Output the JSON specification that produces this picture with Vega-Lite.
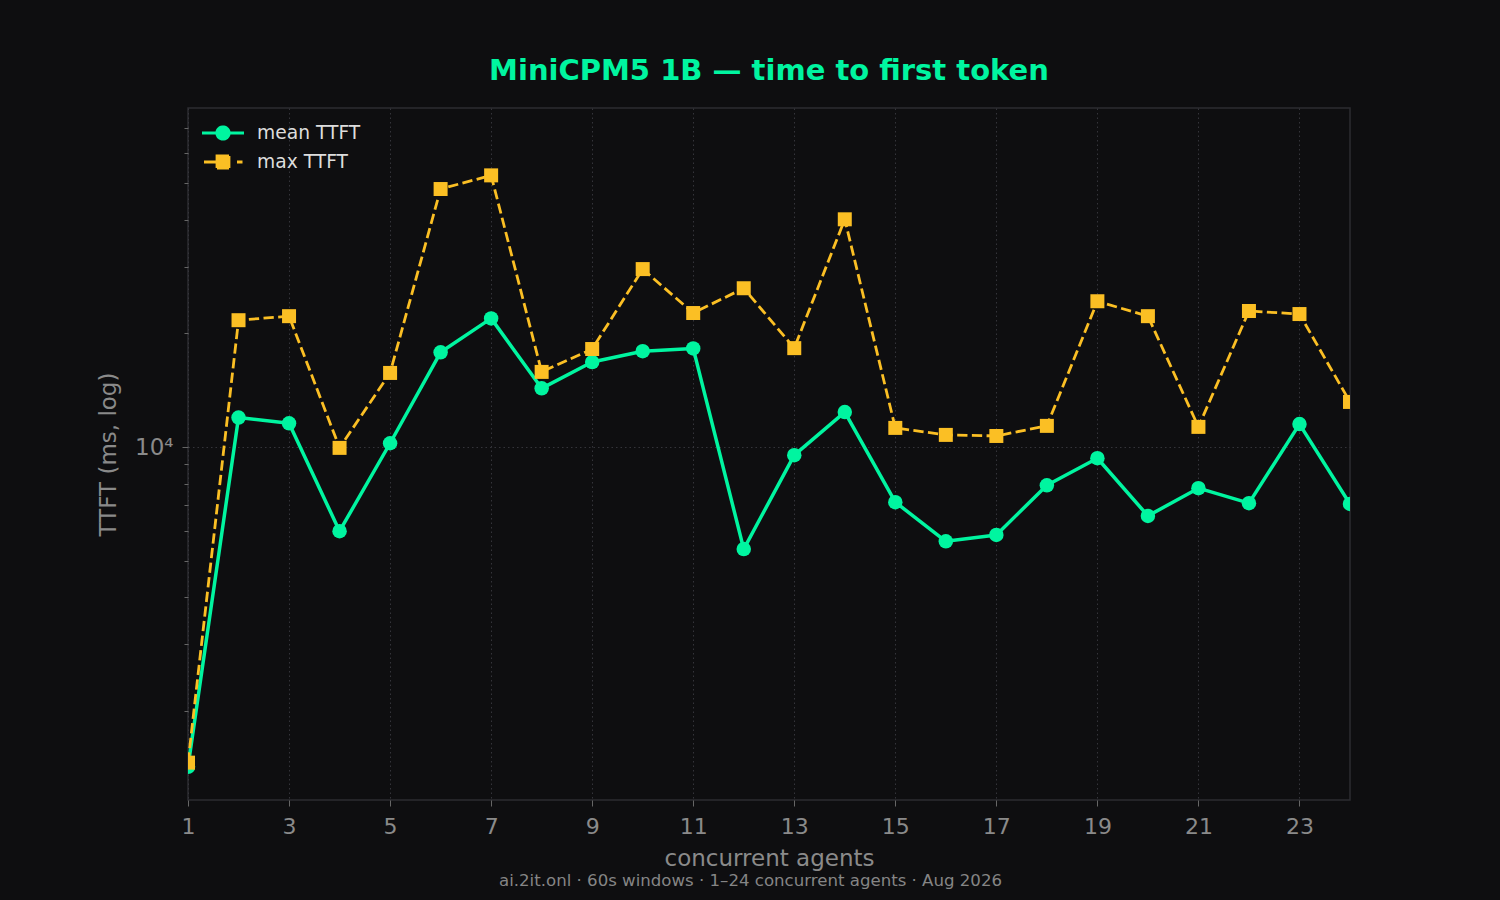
{
  "$schema": "https://vega.github.io/schema/vega-lite/v6.json",
  "width": 1162,
  "height": 692,
  "autosize": {"type": "none"},
  "padding": {"left": 188, "top": 108, "right": 150, "bottom": 100},
  "background": "#0e0e10",
  "config": {
    "font": "DejaVu Sans",
    "view": {"stroke": "#2c2c31", "strokeWidth": 1.5, "fill": "#0e0e10"}
  },
  "title": {
    "text": "MiniCPM5 1B — time to first token",
    "fontSize": 29,
    "fontWeight": "bold",
    "color": "#00f5a0",
    "font": "DejaVu Sans",
    "anchor": "middle",
    "frame": "group",
    "offset": 22
  },
  "data": {
    "values": [
      {"agents": 1, "series": "mean TTFT", "ttft": 1420},
      {"agents": 2, "series": "mean TTFT", "ttft": 11970},
      {"agents": 3, "series": "mean TTFT", "ttft": 11560},
      {"agents": 4, "series": "mean TTFT", "ttft": 5985},
      {"agents": 5, "series": "mean TTFT", "ttft": 10235},
      {"agents": 6, "series": "mean TTFT", "ttft": 17830},
      {"agents": 7, "series": "mean TTFT", "ttft": 21930},
      {"agents": 8, "series": "mean TTFT", "ttft": 14310},
      {"agents": 9, "series": "mean TTFT", "ttft": 16800},
      {"agents": 10, "series": "mean TTFT", "ttft": 17950},
      {"agents": 11, "series": "mean TTFT", "ttft": 18260},
      {"agents": 12, "series": "mean TTFT", "ttft": 5365},
      {"agents": 13, "series": "mean TTFT", "ttft": 9515},
      {"agents": 14, "series": "mean TTFT", "ttft": 12380},
      {"agents": 15, "series": "mean TTFT", "ttft": 7145},
      {"agents": 16, "series": "mean TTFT", "ttft": 5625},
      {"agents": 17, "series": "mean TTFT", "ttft": 5850},
      {"agents": 18, "series": "mean TTFT", "ttft": 7920},
      {"agents": 19, "series": "mean TTFT", "ttft": 9340},
      {"agents": 20, "series": "mean TTFT", "ttft": 6570},
      {"agents": 21, "series": "mean TTFT", "ttft": 7780},
      {"agents": 22, "series": "mean TTFT", "ttft": 7100},
      {"agents": 23, "series": "mean TTFT", "ttft": 11505},
      {"agents": 24, "series": "mean TTFT", "ttft": 7065},
      {"agents": 1, "series": "max TTFT", "ttft": 1457},
      {"agents": 2, "series": "max TTFT", "ttft": 21690},
      {"agents": 3, "series": "max TTFT", "ttft": 22230},
      {"agents": 4, "series": "max TTFT", "ttft": 9950},
      {"agents": 5, "series": "max TTFT", "ttft": 15720},
      {"agents": 6, "series": "max TTFT", "ttft": 48300},
      {"agents": 7, "series": "max TTFT", "ttft": 52500},
      {"agents": 8, "series": "max TTFT", "ttft": 15820},
      {"agents": 9, "series": "max TTFT", "ttft": 18190},
      {"agents": 10, "series": "max TTFT", "ttft": 29630},
      {"agents": 11, "series": "max TTFT", "ttft": 22660},
      {"agents": 12, "series": "max TTFT", "ttft": 26360},
      {"agents": 13, "series": "max TTFT", "ttft": 18290},
      {"agents": 14, "series": "max TTFT", "ttft": 40150},
      {"agents": 15, "series": "max TTFT", "ttft": 11240},
      {"agents": 16, "series": "max TTFT", "ttft": 10770},
      {"agents": 17, "series": "max TTFT", "ttft": 10700},
      {"agents": 18, "series": "max TTFT", "ttft": 11380},
      {"agents": 19, "series": "max TTFT", "ttft": 24350},
      {"agents": 20, "series": "max TTFT", "ttft": 22230},
      {"agents": 21, "series": "max TTFT", "ttft": 11310},
      {"agents": 22, "series": "max TTFT", "ttft": 22940},
      {"agents": 23, "series": "max TTFT", "ttft": 22520},
      {"agents": 24, "series": "max TTFT", "ttft": 13170}
    ]
  },
  "encoding": {
    "y": {
      "field": "ttft",
      "type": "quantitative",
      "scale": {"type": "log", "domain": [1160, 79200], "nice": false},
      "axis": {
        "title": "TTFT (ms, log)",
        "titleFontSize": 23,
        "titleFontWeight": "normal",
        "titleColor": "#8a8a8a",
        "titlePadding": 14,
        "values": [2000, 3000, 4000, 5000, 6000, 7000, 8000, 9000, 10000, 20000, 30000, 40000, 50000, 60000, 70000],
        "labelExpr": "datum.value == 10000 ? '10⁴' : ''",
        "labelFontSize": 23,
        "labelColor": "#8a8a8a",
        "labelPadding": 9,
        "labelOverlap": false,
        "labelFlush": false,
        "tickColor": "#666666",
        "tickWidth": 1,
        "tickSize": {"condition": {"test": "datum.value == 10000", "value": 6}, "value": 4},
        "domain": false,
        "grid": true,
        "gridColor": "#34343a",
        "gridDash": [1.5, 3],
        "gridOpacity": {"condition": {"test": "datum.value == 10000", "value": 1}, "value": 0}
      }
    },
    "color": {
      "field": "series",
      "type": "nominal",
      "scale": {"domain": ["mean TTFT", "max TTFT"], "range": ["#00f5a0", "#fbbf24"]},
      "legend": {
        "title": null,
        "orient": "none",
        "legendX": 23.5,
        "legendY": 13.5,
        "padding": 0,
        "symbolSize": 400,
        "symbolStrokeWidth": 2.8,
        "symbolOpacity": 1,
        "labelFontSize": 18.7,
        "labelColor": "#dddddd",
        "labelFont": "DejaVu Sans",
        "labelOffset": 22.5,
        "rowPadding": 4,
        "encode": {
          "symbols": {
            "update": {
              "strokeDash": {"value": [1, 0]},
              "strokeWidth": {"value": 2.8},
              "opacity": {"value": 1}
            }
          }
        }
      }
    }
  },
  "layer": [
    {
      "transform": [{"filter": {"field": "series", "equal": "mean TTFT"}}],
      "mark": {"type": "line", "clip": true, "strokeJoin": "round", "strokeWidth": 3.5},
      "encoding": {
        "x": {
          "field": "agents",
          "type": "quantitative",
          "scale": {"domain": [1, 24], "nice": false, "zero": false},
          "axis": {
            "orient": "bottom",
            "title": "concurrent agents",
            "titleFontSize": 23,
            "titleFontWeight": "normal",
            "titleColor": "#8a8a8a",
            "titlePadding": 10,
            "values": [1, 3, 5, 7, 9, 11, 13, 15, 17, 19, 21, 23],
            "labelFontSize": 22,
            "labelColor": "#8a8a8a",
            "labelPadding": 10,
            "labelFlush": false,
            "labelOverlap": false,
            "tickColor": "#666666",
            "tickSize": 6,
            "tickWidth": 1,
            "domain": false,
            "grid": true,
            "gridColor": "#34343a",
            "gridDash": [1.5, 3]
          }
        }
      }
    },
    {
      "transform": [{"filter": {"field": "series", "equal": "mean TTFT"}}],
      "mark": {"type": "point", "shape": "circle", "filled": true, "opacity": 1, "clip": true, "size": 210},
      "encoding": {
        "x": {
          "field": "agents",
          "type": "quantitative",
          "scale": {"domain": [1, 24], "nice": false, "zero": false},
          "axis": {
            "orient": "bottom",
            "title": "ai.2it.onl · 60s windows · 1–24 concurrent agents · Aug 2026",
            "titleFontSize": 16.6,
            "titleFontWeight": "normal",
            "titleColor": "#858585",
            "titlePadding": 72,
            "titleX": 562,
            "labels": false,
            "ticks": false,
            "domain": false,
            "grid": false
          }
        }
      }
    },
    {
      "transform": [{"filter": {"field": "series", "equal": "max TTFT"}}],
      "mark": {"type": "line", "clip": true, "strokeWidth": 2.8, "strokeDash": [10.3, 4.4]},
      "encoding": {
        "x": {
          "field": "agents",
          "type": "quantitative",
          "scale": {"domain": [1, 24], "nice": false, "zero": false},
          "axis": null
        }
      }
    },
    {
      "transform": [{"filter": {"field": "series", "equal": "max TTFT"}}],
      "mark": {"type": "point", "shape": "square", "filled": true, "opacity": 1, "clip": true, "size": 196},
      "encoding": {
        "x": {
          "field": "agents",
          "type": "quantitative",
          "scale": {"domain": [1, 24], "nice": false, "zero": false},
          "axis": null
        }
      }
    },
    {
      "mark": {"type": "point", "filled": true, "opacity": 0, "clip": true, "size": 1},
      "encoding": {
        "x": {
          "field": "agents",
          "type": "quantitative",
          "scale": {"domain": [1, 24], "nice": false, "zero": false},
          "axis": null
        },
        "shape": {
          "field": "series",
          "type": "nominal",
          "scale": {
            "domain": ["mean TTFT", "max TTFT"],
            "range": [
              "M-2.1,0L2.1,0M0.62,0A0.62,0.62 0 1,1 -0.62,0A0.62,0.62 0 1,1 0.62,0Z",
              "M-1.9,0L0,0M1.4,0L1.95,0M-0.6,-0.6L0.6,-0.6L0.6,0.6L-0.6,0.6Z"
            ]
          },
          "legend": null
        }
      }
    }
  ],
  "resolve": {"axis": {"x": "independent"}}
}
